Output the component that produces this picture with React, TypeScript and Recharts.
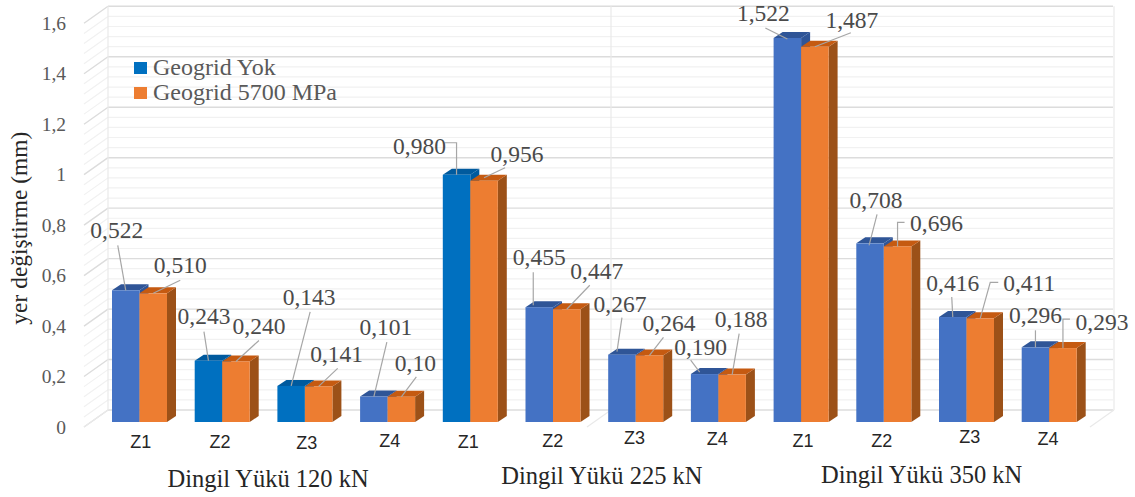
import React from "react";
import { BarChart, Bar, XAxis, YAxis, CartesianGrid, Legend, LabelList } from "recharts";

// Measurements by axle load and zone
const zones = ["Z1", "Z2", "Z3", "Z4", "Z1", "Z2", "Z3", "Z4", "Z1", "Z2", "Z3", "Z4"];
const noGeogrid = [0.522, 0.243, 0.143, 0.101, 0.98, 0.455, 0.267, 0.19, 1.522, 0.708, 0.416, 0.296];
const geogrid5700 = [0.51, 0.24, 0.141, 0.1, 0.956, 0.447, 0.264, 0.188, 1.487, 0.696, 0.411, 0.293];
const noGeogridLabels = ["0,522", "0,243", "0,143", "0,101", "0,980", "0,455", "0,267", "0,190", "1,522", "0,708", "0,416", "0,296"];
const geogrid5700Labels = ["0,510", "0,240", "0,141", "0,10", "0,956", "0,447", "0,264", "0,188", "1,487", "0,696", "0,411", "0,293"];
const groupTitles: Record<number, string> = { 1: "Dingil Yükü 120 kN", 5: "Dingil Yükü 225 kN", 9: "Dingil Yükü 350 kN" };
const yTicks = [0, 0.2, 0.4, 0.6, 0.8, 1, 1.2, 1.4, 1.6];
const yMinor = [
  0.04, 0.08, 0.12, 0.16, 0.24, 0.28, 0.32, 0.36, 0.44, 0.48, 0.52, 0.56, 0.64, 0.68, 0.72, 0.76,
  0.84, 0.88, 0.92, 0.96, 1.04, 1.08, 1.12, 1.16, 1.24, 1.28, 1.32, 1.36, 1.44, 1.48, 1.52, 1.56,
];

const rows = zones.map((zone, i) => ({ zone, slot: `s${i}`, a: noGeogrid[i], b: geogrid5700[i] }));

// Front face colours of the first series vary from bar to bar
const BLUE = "#4472C4";
const DEEP = "#0070C0";
const ORANGE = "#ED7D31";
const firstSeriesFills = [BLUE, DEEP, DEEP, BLUE, DEEP, BLUE, BLUE, BLUE, BLUE, BLUE, BLUE, BLUE];
const shades: Record<string, { top: string; side: string }> = {
  [BLUE]: { top: "#2F5597", side: "#2F5597" },
  [DEEP]: { top: "#005A9E", side: "#005A9E" },
  [ORANGE]: { top: "#C55A11", side: "#9C5118" },
};

// Callout placement relative to the top-centre of each bar: text centre, then leader points
type Callout = { text: [number, number]; path: [number, number][] };
const noGeogridCallouts: Callout[] = [
  { text: [-9, -60], path: [[-8, -45], [0, 0]] },
  { text: [-4.5, -45], path: [[-4.5, -29], [0, 0]] },
  { text: [18, -89], path: [[19, -74], [0, 0]] },
  { text: [12, -69.5], path: [[13, -54.5], [0, 0]] },
  { text: [-37, -29], path: [[-12, -32], [0, -32], [0, 0]] },
  { text: [0, -50], path: [[-6, -35], [-6, -2]] },
  { text: [-2, -51], path: [[0, -37], [-5, -3]] },
  { text: [-4, -27], path: [[-14, -14], [-5, -2]] },
  { text: [-24, -25], path: [[-22, -10], [0, 1]] },
  { text: [6, -43], path: [[7, -29], [-1, 2]] },
  { text: [0, -34], path: [[-1, -20], [0, 0]] },
  { text: [0, -32], path: [[0, -17], [0, 0]] },
];
const geogrid5700Callouts: Callout[] = [
  { text: [27, -28], path: [[27, -13], [0, 0]] },
  { text: [23, -35], path: [[23, -21], [0, 0]] },
  { text: [18, -32], path: [[19, -18], [0, 0]] },
  { text: [14, -34], path: [[15, -20], [0, 0]] },
  { text: [33, -27], path: [[21, -13], [0, -3]] },
  { text: [30, -38], path: [[23, -24], [0, 0]] },
  { text: [19.5, -32], path: [[14, -18], [0, 0]] },
  { text: [9, -56], path: [[7, -41], [0, 0]] },
  { text: [37, -27], path: [[36, -14], [0, 0]] },
  { text: [39, -23], path: [[7, -24], [0, -24], [0, 0]] },
  { text: [49, -35], path: [[18, -36], [10, -36], [0, 0]] },
  { text: [39, -26], path: [[7, -29], [0, -29], [0, 0]] },
];

// Small nudges of the zone captions under each bar pair
const zoneTickNudges: [number, number][] = [
  [1.5, 1], [-2, 1], [2, 2], [2.4, 0], [-2, 1], [0, 0], [-1, -3], [-1, -2], [2, 0], [-2, 0], [3.5, -4], [-1, -2],
];
const groupTickNudges: Record<number, [number, number]> = { 1: [46, -1], 5: [49, -4], 9: [38, -5] };

const SERIF = "'Liberation Serif', serif";
const SANS = "'Liberation Sans', sans-serif";
const DEPTH_X = 9;
const DEPTH_Y = 6;
const WALL_DX = 24;
const BACK_DY = -12;
const FRONT_DY = 5;
const WALL_RIGHT = 1113;

// A bar with a shaded top and side so it reads as a 3D column
function Column(props: any, fillOf: (i: number) => string) {
  const { x, y, width, height, index } = props;
  const fill = fillOf(index);
  const shade = shades[fill];
  const r = x + width;
  const b = y + height;
  return (
    <g>
      <polygon points={`${r},${y} ${r + DEPTH_X},${y - DEPTH_Y} ${r + DEPTH_X},${b - DEPTH_Y} ${r},${b}`} fill={shade.side} />
      <polygon points={`${x},${y} ${x + DEPTH_X},${y - DEPTH_Y} ${r + DEPTH_X},${y - DEPTH_Y} ${r},${y}`} fill={shade.top} />
      <rect x={x} y={y} width={width} height={height} fill={fill} />
    </g>
  );
}

// Back-wall rule plus its diagonal on the left side wall
function wallRule(color: string, strokeWidth: number) {
  return (p: any) => {
    const backY = p.y1 + BACK_DY;
    const backX = 84 + WALL_DX;
    return (
      <g key={`rule-${p.index}-${color}`}>
        <line x1={backX} x2={WALL_RIGHT} y1={backY} y2={backY} stroke={color} strokeWidth={strokeWidth} />
        <line x1={84} x2={backX} y1={p.y1 + FRONT_DY} y2={backY} stroke={color} strokeWidth={strokeWidth} />
      </g>
    );
  };
}

// Vertical post on the back wall with its floor diagonal
function wallPost(p: any) {
  return (
    <g key={`post-${p.index}`}>
      <line x1={p.x1 + WALL_DX} x2={p.x1 + WALL_DX} y1={p.y1 + BACK_DY} y2={p.y2 + BACK_DY} stroke="#E9E9E9" strokeWidth={1.2} />
      <line x1={p.x1} x2={p.x1 + WALL_DX} y1={p.y2 + FRONT_DY} y2={p.y2 + BACK_DY} stroke="#E9E9E9" strokeWidth={1.2} />
    </g>
  );
}

function calloutRenderer(labels: string[], callouts: Callout[]) {
  return (props: any) => {
    const box = props.viewBox ?? props;
    const cx = box.x + box.width / 2;
    const top = box.y;
    const c = callouts[props.index];
    const pts = c.path.map(([dx, dy]) => `${cx + dx},${top + dy}`).join(" ");
    return (
      <g>
        <polyline points={pts} fill="none" stroke="#A6A6A6" strokeWidth={1.2} />
        <text
          x={cx + c.text[0]}
          y={top + c.text[1]}
          textAnchor="middle"
          dominantBaseline="central"
          fontFamily={SERIF}
          fontSize={23.5}
          fill="#4A4A4A"
        >
          {labels[props.index]}
        </text>
      </g>
    );
  };
}

function LegendBox(props: any) {
  return (
    <div style={{ fontFamily: SERIF, fontSize: 24, color: "#595959", lineHeight: "25px" }}>
      {props.payload.map((item: any) => (
        <div key={item.value} style={{ display: "flex", alignItems: "center", whiteSpace: "nowrap" }}>
          <span style={{ width: 13, height: 12, background: item.color, marginRight: 6, display: "inline-block" }} />
          {item.value}
        </div>
      ))}
    </div>
  );
}

export default function App() {
  return (
    <div style={{ position: "absolute", left: 0, top: 0, width: 1135, height: 497, background: "#fff" }}>
      <BarChart
        width={1135}
        height={497}
        data={rows}
        margin={{ top: 18.3, right: 44.6, bottom: 0, left: 0 }}
        barGap={0}
        barSize={27.5}
      >
        <CartesianGrid vertical={false} horizontalValues={yMinor} horizontal={wallRule("#F1F1F1", 1.2)} />
        <CartesianGrid vertical={false} horizontalValues={yTicks} horizontal={wallRule("#DCDCDC", 1.4)} />
        <CartesianGrid horizontal={false} verticalPoints={[84, 587, 1090]} vertical={wallPost} />
        <XAxis
          dataKey="zone"
          height={40}
          axisLine={false}
          tickLine={false}
          tickSize={0}
          tickMargin={0}
          interval={0}
          tick={(p: any) => {
            const [dx, dy] = zoneTickNudges[p.index];
            return (
              <text x={p.x + dx} y={p.y + 19 + dy} textAnchor="middle" dominantBaseline="central" fontFamily={SANS} fontSize={18} fill="#262626">
                {p.payload.value}
              </text>
            );
          }}
        />
        <XAxis
          xAxisId="group"
          dataKey="slot"
          height={35}
          axisLine={false}
          tickLine={false}
          tickSize={0}
          tickMargin={0}
          interval={0}
          tick={(p: any) => {
            const title = groupTitles[p.index];
            if (!title) return <g />;
            const [dx, dy] = groupTickNudges[p.index];
            return (
              <text x={p.x + dx} y={p.y + 17 + dy} textAnchor="middle" dominantBaseline="central" fontFamily={SERIF} fontSize={24.5} fill="#262626">
                {title}
              </text>
            );
          }}
        />
        <YAxis
          width={98}
          domain={[0, 1.6]}
          ticks={yTicks}
          interval={0}
          axisLine={false}
          tickLine={false}
          tick={(p: any) => (
            <text x={66} y={p.y + FRONT_DY} textAnchor="end" dominantBaseline="central" fontFamily={SERIF} fontSize={19.5} fill="#595959">
              {String(p.payload.value).replace(".", ",")}
            </text>
          )}
          label={{
            value: "yer değiştirme (mm)",
            angle: -90,
            position: "insideLeft",
            dx: 14,
            dy: 8,
            style: { fontFamily: SERIF, fontSize: 23.5, fill: "#262626", textAnchor: "middle" },
          }}
        />
        <Legend
          layout="vertical"
          align="center"
          verticalAlign="middle"
          itemSorter={null}
          wrapperStyle={{ left: 134, top: 55, width: 240 }}
          content={LegendBox}
        />
        <Bar
          dataKey="a"
          name="Geogrid Yok"
          fill={DEEP}
          isAnimationActive={false}
          shape={(p: any) => Column(p, (i) => firstSeriesFills[i])}
        >
          <LabelList dataKey="a" content={calloutRenderer(noGeogridLabels, noGeogridCallouts)} />
        </Bar>
        <Bar
          dataKey="b"
          name="Geogrid 5700 MPa"
          fill={ORANGE}
          isAnimationActive={false}
          shape={(p: any) => Column(p, () => ORANGE)}
        >
          <LabelList dataKey="b" content={calloutRenderer(geogrid5700Labels, geogrid5700Callouts)} />
        </Bar>
      </BarChart>
    </div>
  );
}
